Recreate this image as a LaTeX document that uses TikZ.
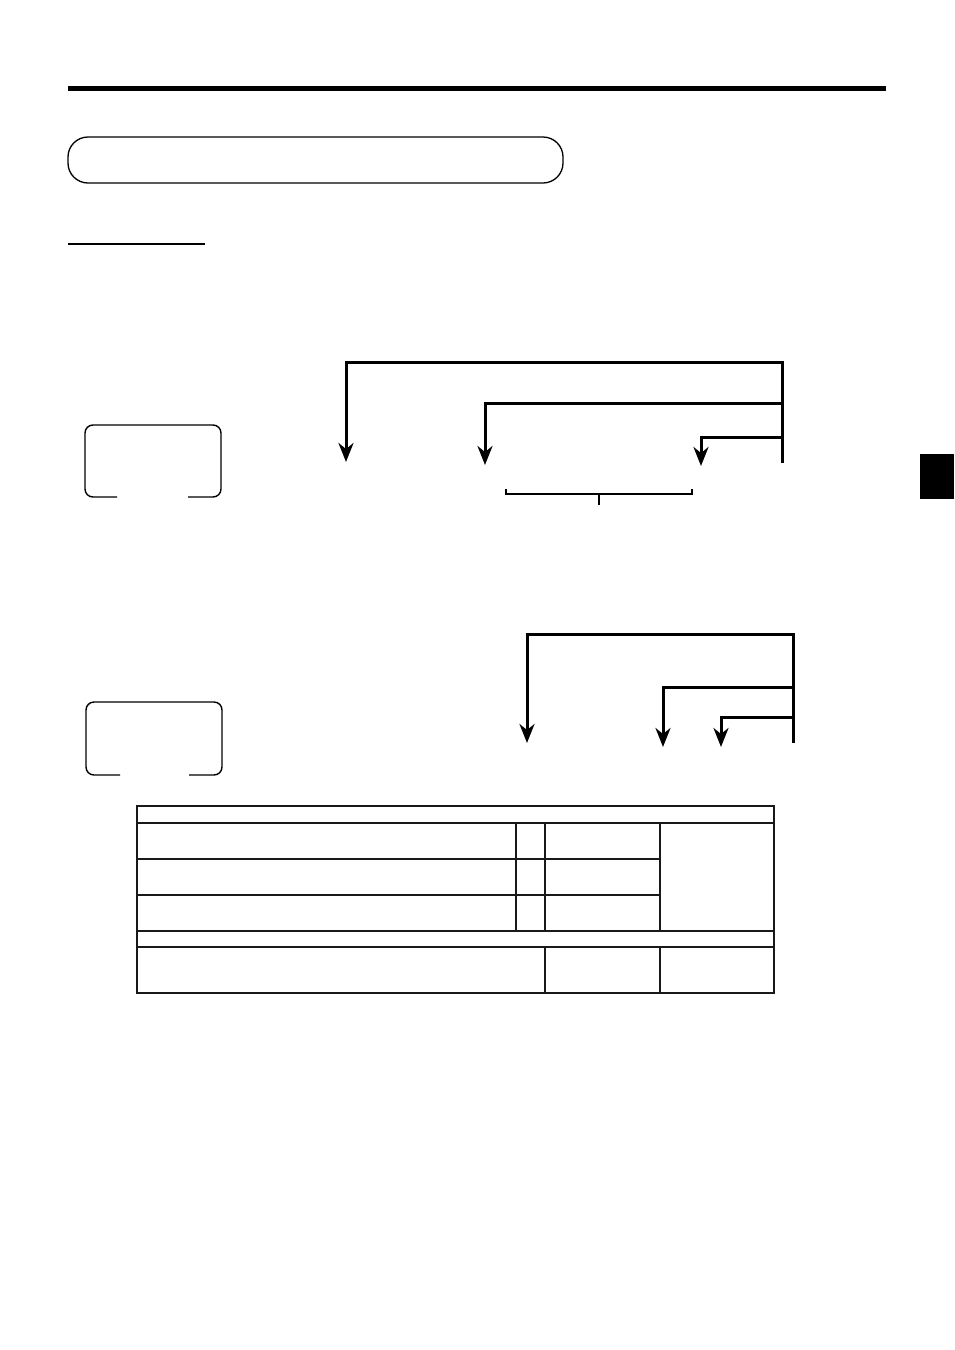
\documentclass[tikz,border=0pt]{standalone}
\usetikzlibrary{arrows.meta}

\tikzset{
	flow/.style={line width=3pt, line join=miter, -{Stealth[length=19pt,width=15pt,inset=6pt]}},
	trunk/.style={line width=3pt, line join=miter},
	keybox/.style={line width=1.4pt, rounded corners=8pt},
	thick rule/.style={line width=2.6pt, draw=black!90},
	thin rule/.style={line width=1.3pt, draw=black!90}
}

\begin{document}
\begin{tikzpicture}[x=1pt,y=-1pt]
	\useasboundingbox (0,0) rectangle (954,1350);

	% heading
	\draw[line width=5pt] (68,88.5) -- (886,88.5);
	\draw[line width=1.3pt, rounded corners=20pt] (68,137) rectangle (563,183);
	\draw[line width=2.7pt] (68,244) -- (205,244);
	\fill (920,454) rectangle (954,499);

	% first key box
	\draw[keybox] (117,497) -| (85,425) -| (221,497) -- (188,497);

	% first branch
	\coordinate (T1b) at (782,463);
	\coordinate (T1t) at (782,362);
	\coordinate (H12) at (782,403);
	\coordinate (H13) at (782,437);
	\coordinate (A11) at (346,462);
	\coordinate (A12) at (485,465);
	\coordinate (A13) at (701,466);
	\draw[flow] (T1b) -- (T1t) -| (A11);
	\draw[flow] (H12) -| (A12);
	\draw[flow] (H13) -| (A13);

	% bracket under the range
	\coordinate (B1) at (506,489);
	\coordinate (B2) at (692,489);
	\coordinate (Bm) at (599,494);
	\coordinate (Bt) at (599,505);
	\draw[line width=1.3pt] (B1) |- (Bm) -| (B2);
	\draw[line width=1.3pt] (Bm) -- (Bt);

	% second key box
	\draw[keybox] (120,775) -| (86,702) -| (222,775) -- (189,775);

	% second branch
	\coordinate (T2b) at (793,743);
	\coordinate (T2t) at (793,634);
	\coordinate (H22) at (793,687);
	\coordinate (H23) at (793,717);
	\coordinate (A21) at (527,743);
	\coordinate (A22) at (663,747);
	\coordinate (A23) at (721,747);
	\draw[flow] (T2b) -- (T2t) -| (A21);
	\draw[flow] (H22) -| (A22);
	\draw[flow] (H23) -| (A23);

	% table
	\draw[thin rule] (137,859) -- (660,859);
	\draw[thin rule] (137,895) -- (660,895);
	\draw[thin rule] (516,823) -- (516,931);
	\draw[thin rule] (545,823) -- (545,931);
	\draw[thin rule] (660,823) -- (660,931);
	\draw[thin rule] (545,947) -- (545,993);
	\draw[thin rule] (660,947) -- (660,993);
	\draw[thick rule] (137,823) -- (774,823);
	\draw[thick rule] (137,931) -- (774,931);
	\draw[thick rule] (137,947) -- (774,947);
	\draw[thick rule] (137,806) rectangle (774,993);
\end{tikzpicture}
\end{document}
